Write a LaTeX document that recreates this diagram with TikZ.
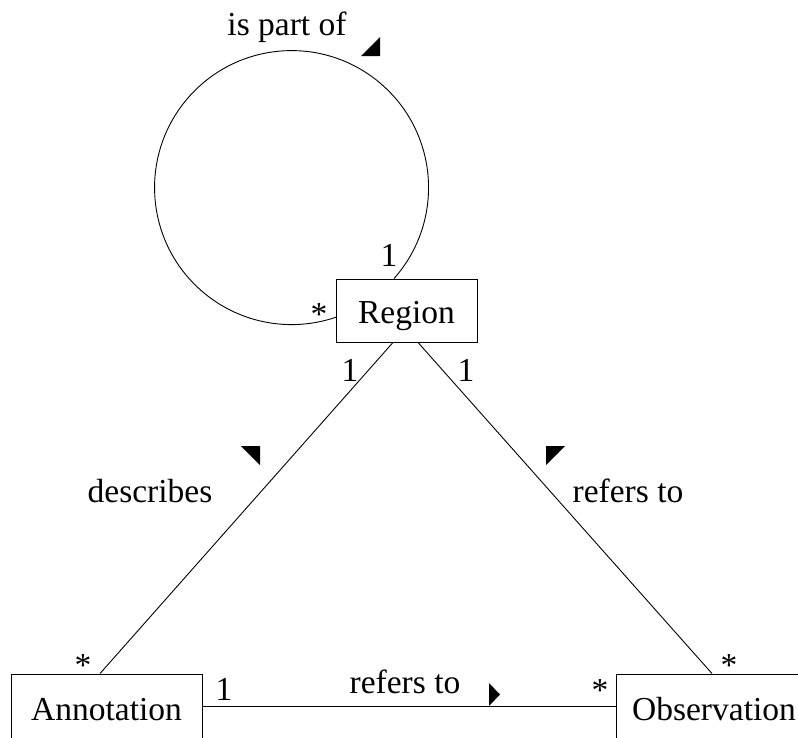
\documentclass[tikz,border=0pt]{standalone}
\usepackage{fontspec}
\setmainfont{Liberation Serif}
\usetikzlibrary{positioning}

\begin{document}
\begin{tikzpicture}[x=1pt,y=-1pt]
  \tikzset{
    classbox/.style={
      draw,
      line width=0.9pt,
      inner sep=0pt,
      text height=25pt,
      text depth=0pt,
      font=\fontsize{33.5}{36}\selectfont
    },
    assoc/.style={line width=0.9pt},
    assoclabel/.style={font=\fontsize{33.5}{36}\selectfont, anchor=base, inner sep=0pt},
    rolelabel/.style={font=\fontsize{33.5}{36}\selectfont, anchor=base, inner sep=0pt},
    readmark/.style={fill=black}
  }
  \useasboundingbox (0,0) rectangle (798,737);

  \node[classbox, minimum width=141pt, minimum height=63pt] (region)      at (406.5,310.5) {Region};
  \node[classbox, minimum width=191pt, minimum height=67pt] (annotation)  at (106.5,707.5) {Annotation};
  \node[classbox, minimum width=196pt, minimum height=67pt] (observation) at (714,707.5)   {Observation};

  % associations
  \draw[assoc] ([xshift=-12.5pt]region.north) arc[start angle=-41.6, end angle=289, radius=137pt];
  \draw[assoc] ([xshift=-13.5pt]region.south) -- ([xshift=-6.5pt]annotation.north);
  \draw[assoc] ([xshift=11.5pt]region.south) -- ([xshift=-2pt]observation.north);
  \draw[assoc] ([yshift=1.5pt]annotation.east) -- ([yshift=1.5pt]observation.west);

  \node[assoclabel] (partof)     at (287,35)  {is part of};
  \node[assoclabel] (describes)  at (150,502) {describes};
  \node[assoclabel] (refersobs)  at (628,502) {refers to};
  \node[assoclabel] (refersnote) at (405,693) {refers to};

  \fill[readmark] (361,56) -- (380,56) -- (380,37) -- cycle;
  \fill[readmark] (241,446) -- (260,446) -- (260,465) -- cycle;
  \fill[readmark] (546,446) -- (565,446) -- (546,465) -- cycle;
  \fill[readmark] (489,683) -- (489,706) -- (500,694.5) -- cycle;

  \node[rolelabel] (partone)   at (389,266) {1};
  \node[rolelabel] (partmany)  at (319,325) {*};
  \node[rolelabel] (descone)   at (350,381) {1};
  \node[rolelabel] (refone)    at (466,381) {1};
  \node[rolelabel] (descmany)  at (83,676)  {*};
  \node[rolelabel] (noteone)   at (224,700) {1};
  \node[rolelabel] (notemany)  at (600,701) {*};
  \node[rolelabel] (refmany)   at (729,676) {*};
\end{tikzpicture}
\end{document}
